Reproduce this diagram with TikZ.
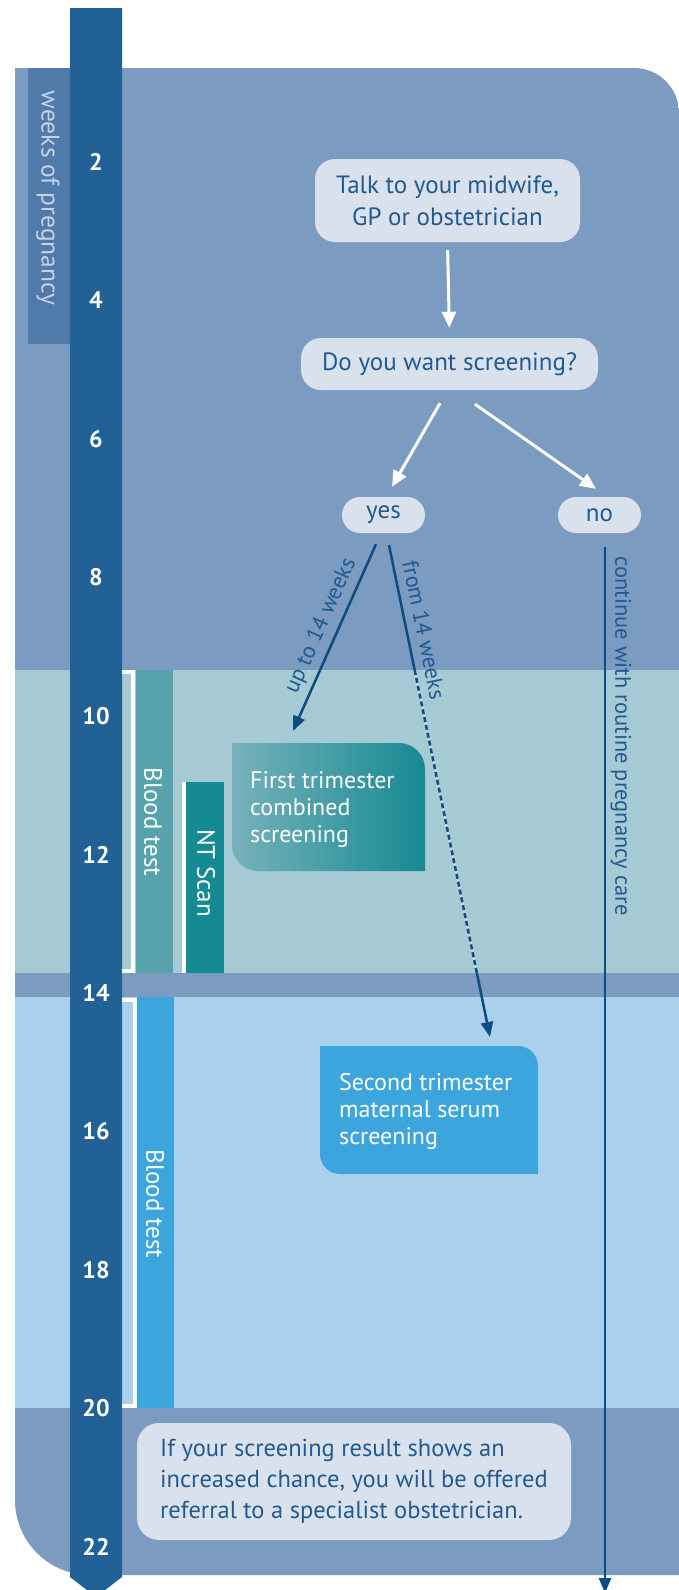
\documentclass[tikz,border=0pt]{standalone}
\usepackage{fontspec}
\setmainfont{PT Sans}
\usetikzlibrary{arrows.meta,calc}
\definecolor{panelc}{HTML}{7C9BC1}
\definecolor{tealc}{HTML}{A6CAD3}
\definecolor{lightc}{HTML}{AAD0EC}
\definecolor{barc}{HTML}{216195}
\definecolor{weekc}{HTML}{4F7AAA}
\definecolor{weektxt}{HTML}{C6D2E4}
\definecolor{btone}{HTML}{57A3AD}
\definecolor{ntc}{HTML}{168A93}
\definecolor{bttwo}{HTML}{3CA5DE}
\definecolor{boxc}{HTML}{D9E1EC}
\definecolor{txtc}{HTML}{215A91}
\definecolor{arrc}{HTML}{0D4B83}
\definecolor{ftleft}{HTML}{77B1BA}
\definecolor{dashg}{HTML}{C9D3DE}
\begin{document}
\begin{tikzpicture}[x=1pt,y=-1pt,
  flowbox/.style={fill=boxc, rounded corners=20pt, text=txtc, font=\fontsize{25}{32}\selectfont, align=center, inner sep=0pt},
  wk/.style={text=white, font=\bfseries\fontsize{24}{24}\selectfont},
  vlabel/.style={rotate=-90, text=white, font=\fontsize{25}{25}\selectfont},
  arrlabel/.style={text=txtc, font=\fontsize{22.5}{22.5}\selectfont},
  boxtext/.style={text=white, align=left, inner sep=0pt, font=\fontsize{24}{27}\selectfont},
  whitearrow/.style={draw=white, line width=3pt, -{Triangle[length=16pt,width=14pt]}},
  bluearrow/.style={draw=arrc, line width=2.5pt, -{Triangle[length=15pt,width=12pt]}},
  blueline/.style={draw=arrc, line width=2.5pt},
  bracket/.style={draw=white, line width=4pt}]
\useasboundingbox (0,0) rectangle (679,1590);
% panel with bands
\begin{scope}
\clip (15,68) -- (634,68) .. controls (658.9,68) and (679,88.1) .. (679,113) -- (679,1575)
  -- (90,1575) .. controls (48.6,1575) and (15,1541.4) .. (15,1500) -- cycle;
\fill[panelc] (0,60) rectangle (679,670);
\fill[tealc] (0,670) rectangle (679,973);
\fill[panelc] (0,973) rectangle (679,997);
\fill[lightc] (0,997) rectangle (679,1408);
\fill[panelc] (0,1408) rectangle (679,1580);
\end{scope}
% weeks of pregnancy panel
\fill[weekc] (28,68) rectangle (70,344);
\node[rotate=-90, text=weektxt, font=\fontsize{25.5}{25.5}\selectfont] (wop) at (48,198) {weeks of pregnancy};
% timeline bar
\fill[barc] (70,8) -- (122,8) -- (122,1577) -- (96,1597) -- (70,1577) -- cycle;
\foreach \w in {2,4,...,22} \node[wk] (w\w) at (96,{162+(\w-2)*69.25}) {\w};
% first trimester tests
\draw[bracket] (122,672) -- (132.5,672) -- (132.5,971) -- (122,971);
\fill[btone] (135.5,670) rectangle (173,973);
\node[vlabel] (bt1) at (153,822) {Blood test};
\draw[draw=white, line width=4pt] (184,782) -- (184,973);
\fill[ntc] (186,782) rectangle (224,973);
\node[vlabel] (nts) at (206,873) {NT Scan};
% second trimester test
\draw[bracket] (122,999.5) -- (135,999.5) -- (135,1405.5) -- (122,1405.5);
\fill[bttwo] (137,997) rectangle (174,1408);
\node[vlabel] (bt2) at (155,1204) {Blood test};
% boxes
\node[flowbox, minimum width=265pt, minimum height=83pt] (talk) at (447.5,200.5) {Talk to your midwife,\\GP or obstetrician};
\node[flowbox, minimum width=297pt, minimum height=52pt] (ask) at (449.5,364) {Do you want screening?};
\node[flowbox, rounded corners=18pt, minimum width=83pt, minimum height=36pt] (yes) at (383.5,515) {yes};
\node[flowbox, rounded corners=18pt, minimum width=83pt, minimum height=36pt] (no) at (599.5,515) {no};
\shade[left color=ftleft, right color=ntc] (232,743) -- (399,743) .. controls (413.4,743) and (425,754.6) .. (425,769)
  -- (425,871) -- (258,871) .. controls (243.6,871) and (232,859.4) .. (232,845) -- cycle;
\node[boxtext, anchor=west] (first) at (250,810) {First trimester\\combined\\screening};
\fill[bttwo] (320,1046) -- (518,1046) .. controls (529,1046) and (538,1055) .. (538,1066)
  -- (538,1174) -- (340,1174) .. controls (329,1174) and (320,1165) .. (320,1154) -- cycle;
\node[boxtext, anchor=west] (second) at (339,1111) {Second trimester\\maternal serum\\screening};
\node[flowbox, align=left, rounded corners=22pt, minimum width=434pt, minimum height=117pt, font=\fontsize{24.5}{31}\selectfont] (refer) at (354,1481.5)
  {If your screening result shows an\\increased chance, you will be offered\\referral to a specialist obstetrician.};
% white arrows
\draw[whitearrow, shorten <=8pt, shorten >=10pt] (talk.south) -- (ask.north);
\coordinate (a1s) at ($(ask.south)+(-9.5,13)$);
\coordinate (a1e) at ($(yes.north)+(8.5,-10)$);
\draw[whitearrow] (a1s) -- (a1e);
\coordinate (a2s) at ($(ask.south)+(25.5,14)$);
\coordinate (a2e) at ($(no.north)+(-3.5,-8)$);
\draw[whitearrow] (a2s) -- (a2e);
% blue arrows
\coordinate (u1) at ($(yes.south)+(-7.5,11)$);
\coordinate (u2) at (293,731);
\draw[bluearrow] (u1) -- (u2);
\node[arrlabel, rotate=66] (lab1) at (321,626) {up to 14 weeks};
\coordinate (f1) at ($(yes.south)+(5.5,12)$);
\coordinate (f2) at (490,1037);
\coordinate (fd1) at ($(f1)!0.254!(f2)$);
\coordinate (fd2) at ($(f1)!0.870!(f2)$);
\draw[blueline] (f1) -- (fd1);
\draw[draw=dashg, line width=2.5pt] (fd1) -- (fd2);
\draw[blueline, dash pattern=on 5pt off 3pt] (fd1) -- (fd2);
\draw[bluearrow] (fd2) -- (f2);
\node[arrlabel, rotate=-78.4] (lab2) at (424,630) {from 14 weeks};
\coordinate (n1) at ($(no.south)+(5.5,14)$);
\coordinate (n2) at (605,1593);
\draw[bluearrow] (n1) -- (n2);
\node[arrlabel, rotate=-90] (lab3) at (621,736) {continue with routine pregnancy care};
\end{tikzpicture}
\end{document}
